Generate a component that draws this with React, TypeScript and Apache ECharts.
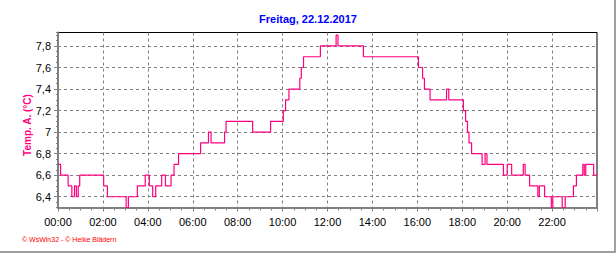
import React, { useEffect, useRef } from "react";
import * as echarts from "echarts";

const titleText = "Freitag, 22.12.2017";
const yAxisTitle = "Temp. A. (°C)";
const footerText = "© WsWin32 - © Heike Blädern";

const times = [
  "00:00", "00:07", "00:27", "00:37", "00:44", "00:49", "00:54", "00:58",
  "02:02", "02:12", "03:02", "03:08", "03:32", "03:53", "04:04", "04:13",
  "04:21", "04:37", "04:47", "05:02", "05:10", "05:22", "06:21", "06:42",
  "06:49", "07:25", "07:29", "08:40", "09:28", "10:02", "10:08", "10:17",
  "10:46", "10:50", "10:56", "11:41", "12:23", "12:28", "13:36", "16:03",
  "16:14", "16:19", "16:34", "17:18", "17:24", "18:03", "18:09", "18:14",
  "18:18", "18:25", "18:53", "19:01", "19:06", "19:50", "20:00", "20:12",
  "20:43", "20:48", "21:00", "21:22", "21:26", "21:40", "21:58", "22:02",
  "22:27", "22:35", "22:57", "23:05", "23:22", "23:26", "23:30", "23:51",
  "24:00",
];
const temps = [
  6.7, 6.6, 6.5, 6.4, 6.5, 6.4, 6.5, 6.6,
  6.5, 6.4, 6.3, 6.4, 6.5, 6.6, 6.5, 6.4,
  6.5, 6.6, 6.5, 6.6, 6.7, 6.8, 6.9, 7.0,
  6.9, 7.0, 7.1, 7.0, 7.1, 7.2, 7.3, 7.4,
  7.5, 7.6, 7.7, 7.8, 7.9, 7.8, 7.7, 7.6,
  7.5, 7.4, 7.3, 7.4, 7.3, 7.2, 7.1, 7.0,
  6.9, 6.8, 6.7, 6.8, 6.7, 6.6, 6.7, 6.6,
  6.7, 6.6, 6.5, 6.4, 6.5, 6.4, 6.3, 6.4,
  6.3, 6.4, 6.5, 6.6, 6.7, 6.6, 6.7, 6.6,
  6.6,
];
const yTickValues = [6.4, 6.6, 6.8, 7.0, 7.2, 7.4, 7.6, 7.8];
const yMin = 6.3;
const yMax = 7.925;
const xMinHour = 0;
const xMaxHour = 24;

const FONT = "'Liberation Sans', Arial, sans-serif";

function toHours(t: string): number {
  const [h, m] = t.split(":").map(Number);
  return h + m / 60;
}

export default function App() {
  const ref = useRef<HTMLDivElement>(null);

  useEffect(() => {
    document.body.style.margin = "0";
    if (!ref.current) return;
    const chart = echarts.init(ref.current, null, { renderer: "svg" });
    const data = times.map((t, i) => [toHours(t), temps[i]]);
    const gridLine = { color: "#808080", width: 1, type: [3, 3] as number[] };

    chart.setOption({
      animation: false,
      backgroundColor: "#ffffff",
      title: {
        text: titleText,
        left: "center",
        top: 13,
        padding: 0,
        textStyle: { fontSize: 11, fontWeight: "bold", color: "#0000ff", fontFamily: FONT },
      },
      grid: {
        left: 58,
        top: 32.5,
        width: 539,
        height: 175,
        show: true,
        borderColor: "#000000",
        borderWidth: 1,
        backgroundColor: "transparent",
      },
      xAxis: {
        type: "value",
        min: xMinHour,
        max: xMaxHour,
        interval: 2,
        axisLine: { show: true, onZero: false, lineStyle: { color: "#808080", width: 2 } },
        axisTick: { show: true, length: 4, lineStyle: { color: "#808080" } },
        minorTick: { show: true, splitNumber: 4, length: 3, lineStyle: { color: "#808080" } },
        axisLabel: {
          fontSize: 11,
          color: "#000",
          fontFamily: FONT,
          margin: 9,
          formatter: (v: number) => (v >= 24 ? "" : String(v).padStart(2, "0") + ":00"),
        },
        splitLine: { show: true, lineStyle: gridLine },
      },
      yAxis: [
        {
          type: "value",
          min: yMin,
          max: yMax,
          axisLine: { show: true, onZero: false, lineStyle: { color: "#808080", width: 2 } },
          axisTick: { show: true, length: 4, customValues: yTickValues, lineStyle: { color: "#808080" } },
          axisLabel: {
            customValues: yTickValues,
            fontSize: 11,
            color: "#000",
            fontFamily: FONT,
            margin: 7,
            formatter: (v: number) => String(Number(v.toFixed(1))).replace(".", ","),
          },
          splitLine: { show: true, lineStyle: gridLine },
        },
        {
          type: "value",
          min: yMin,
          max: yMax,
          interval: 0.05,
          position: "left",
          axisLine: { show: false },
          axisTick: { show: true, length: 2, lineStyle: { color: "#808080" } },
          axisLabel: { show: false },
          splitLine: { show: false },
        },
      ],
      series: [
        {
          type: "line",
          yAxisIndex: 0,
          data,
          step: "end",
          symbol: "none",
          showSymbol: false,
          lineStyle: { color: "#ff0080", width: 1.2 },
        },
      ],
      graphic: [
        {
          type: "text",
          x: 27,
          y: 125,
          rotation: Math.PI / 2,
          style: {
            text: yAxisTitle,
            fill: "#ff0080",
            font: `bold 10px ${FONT}`,
            align: "center",
            verticalAlign: "middle",
          },
        },
        {
          type: "text",
          x: 22,
          y: 239,
          style: {
            text: footerText,
            fill: "#ff0000",
            font: `7px ${FONT}`,
            align: "left",
            verticalAlign: "middle",
          },
        },
        { type: "rect", shape: { x: 614, y: 0, width: 2, height: 253 }, style: { fill: "#a0a0a0" } },
        { type: "rect", shape: { x: 0, y: 251, width: 616, height: 2 }, style: { fill: "#a0a0a0" } },
      ],
    });
    return () => chart.dispose();
  }, []);

  return <div ref={ref} style={{ width: 616, height: 253 }} />;
}
